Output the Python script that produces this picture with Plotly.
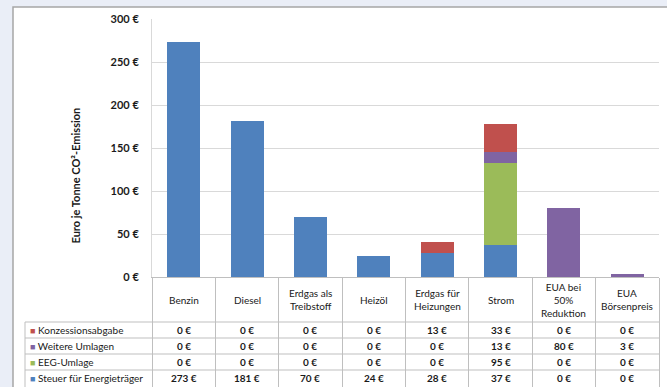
import plotly.graph_objects as go

# ---------------- data ----------------
categories = ["Benzin", "Diesel", "Erdgas als<br>Treibstoff", "Heizöl",
              "Erdgas für<br>Heizungen", "Strom", "EUA bei<br>50%<br>Reduktion",
              "EUA<br>Börsenpreis"]
series_names = ["Konzessionsabgabe", "Weitere Umlagen", "EEG-Umlage",
                "Steuer für Energieträger"]
konzession = [0, 0, 0, 0, 13, 33, 0, 0]
weitere = [0, 0, 0, 0, 0, 13, 80, 3]
eeg = [0, 0, 0, 0, 0, 95, 0, 0]
steuer = [273, 181, 70, 24, 28, 37, 0, 0]
y_tickvals = [0, 50, 100, 150, 200, 250, 300]
y_ticktext = ["0 €", "50 €", "100 €", "150 €", "200 €", "250 €", "300 €"]
y_title = "Euro je Tonne CO²-Emission"

# ---------------- style ----------------
W, H = 667, 387
colors = {"Konzessionsabgabe": "#C0504D", "Weitere Umlagen": "#8064A2",
          "EEG-Umlage": "#9BBB59", "Steuer für Energieträger": "#4F81BD"}
series_values = {"Konzessionsabgabe": konzession, "Weitere Umlagen": weitere,
                 "EEG-Umlage": eeg, "Steuer für Energieträger": steuer}
FONT = "Lato"
TXT = "#1a1a1a"
LINE = "#BFBFBF"
GRID = "#D9D9D9"


def px(x):
    return x / W


def py(y):
    return 1 - y / H


fig = go.Figure()
for name in ["Steuer für Energieträger", "EEG-Umlage", "Weitere Umlagen", "Konzessionsabgabe"]:
    fig.add_trace(go.Bar(x=categories, y=series_values[name], name=name,
                         marker=dict(color=colors[name], line=dict(width=0)),
                         showlegend=False, hoverinfo="skip"))

annotations = []
# y-axis title
annotations.append(dict(x=px(66), y=py(176), xref="paper", yref="paper",
                        text="<b>" + y_title + "</b>", textangle=-90, showarrow=False,
                        font=dict(family=FONT, size=11, color=TXT)))
# category labels (header row of the data table)
for c in categories:
    annotations.append(dict(x=c, y=py(299.5), xref="x", yref="paper", text=c,
                            showarrow=False, yanchor="middle",
                            font=dict(family=FONT, size=10, color=TXT)))
# data table rows
row_centers = [330, 346, 362, 378]
for r, name in enumerate(series_names):
    annotations.append(dict(x=px(28), y=py(row_centers[r]), xref="paper", yref="paper",
                            xanchor="left", yanchor="middle", showarrow=False,
                            text="<span style='color:%s;font-size:9px'>■</span> %s" % (colors[name], name),
                            font=dict(family=FONT, size=10, color=TXT)))
    for c, v in zip(categories, series_values[name]):
        annotations.append(dict(x=c, y=py(row_centers[r]), xref="x", yref="paper",
                                text="<b>%d €</b>" % v, showarrow=False, yanchor="middle",
                                font=dict(family=FONT, size=10, color=TXT)))

shapes = [
    # white panel
    dict(type="rect", xref="paper", yref="paper", x0=px(13), x1=px(720), y0=py(420), y1=py(7),
         fillcolor="white", line=dict(color="#A6A6A6", width=1.5), layer="below"),
    # hide the gridline at the top of the value axis (Excel draws none there)
    dict(type="line", xref="paper", yref="y", x0=px(153), x1=px(662), y0=300, y1=300,
         line=dict(color="white", width=2)),
]
for yy in [322, 338, 354, 370]:
    shapes.append(dict(type="line", xref="paper", yref="paper", x0=px(25), x1=px(659),
                       y0=py(yy), y1=py(yy), line=dict(color=LINE, width=1)))
shapes.append(dict(type="line", xref="paper", yref="paper", x0=px(25), x1=px(25),
                   y0=py(322), y1=py(390), line=dict(color=LINE, width=1)))

fig.update_layout(
    width=W, height=H,
    margin=dict(l=0, r=0, t=0, b=0, autoexpand=False),
    paper_bgcolor="#EAEEF7",
    plot_bgcolor="rgba(0,0,0,0)",
    barmode="stack",
    bargap=0.48,
    font=dict(family=FONT, size=10, color=TXT),
    xaxis=dict(domain=[px(152), px(659)], showline=True, linecolor=LINE,
               ticks="outside", tickson="boundaries", ticklen=110, tickcolor=LINE,
               showticklabels=False, showgrid=False, fixedrange=True, automargin=False),
    yaxis=dict(domain=[py(277), py(19)], range=[0, 300], tickvals=y_tickvals,
               ticktext=["<b>%s</b>" % t for t in y_ticktext], showgrid=True,
               gridcolor=GRID, gridwidth=1,
               showline=True, linecolor=GRID, zeroline=False, ticks="",
               ticklabelstandoff=10, automargin=False,
               tickfont=dict(family=FONT, size=11, color=TXT)),
    annotations=annotations,
    shapes=shapes,
)

fig.write_html("out.html")
